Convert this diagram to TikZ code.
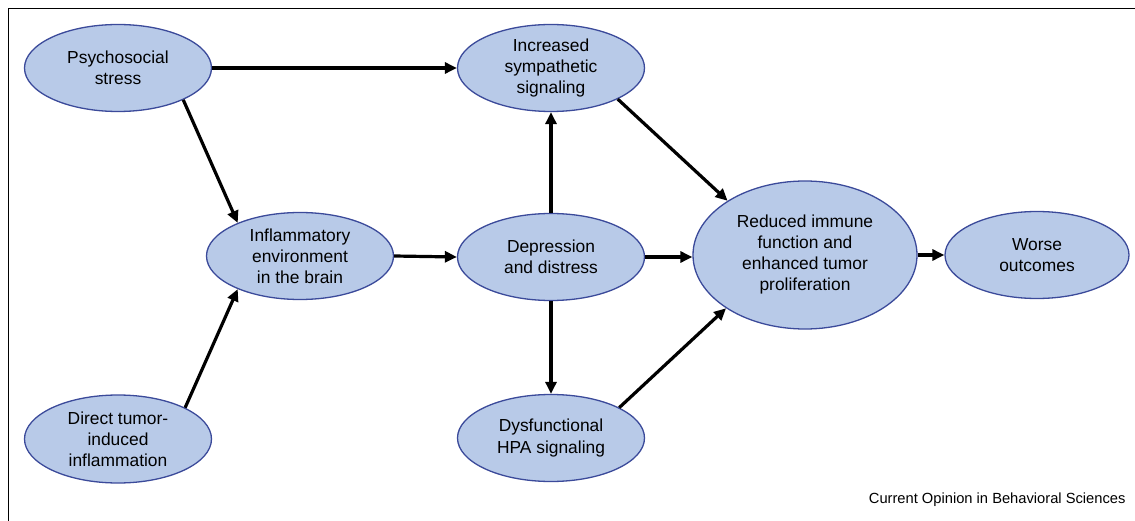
\documentclass[tikz,border=0pt]{standalone}
\usepackage{fontspec}
\setmainfont{Liberation Sans}
\usetikzlibrary{shapes.geometric,arrows.meta}
\definecolor{efill}{HTML}{B8CAE8}
\definecolor{edraw}{HTML}{3B4A9A}
\tikzset{
  ell/.style={ellipse, draw=edraw, line width=1.3pt, fill=efill, inner sep=0pt, align=center,
    font=\fontsize{17.4}{21}\selectfont, minimum width=#1},
  ell/.default=187pt,
  arr/.style={line width=3.2pt, -{Triangle[length=12pt,width=11pt]}},
}
\begin{document}
\begin{tikzpicture}[x=1pt,y=-1pt]
\useasboundingbox (0,0) rectangle (1135,521);
\draw[line width=1.3pt] (8.5,521) -- (8.5,8.5) -- (1135,8.5);

\node[ell, minimum height=87pt] (psy) at (118,68) {Psychosocial\\stress};
\node[ell, minimum height=87pt] (inc) at (551,68) {Increased\\sympathetic\\signaling};
\node[ell, minimum height=87pt] (infl) at (300,256) {Inflammatory\\environment\\in the brain};
\node[ell, minimum height=87pt] (dep) at (551,257) {Depression\\and distress};
\node[ell=224pt, minimum height=148pt] (red) at (805,255) {Reduced immune\\function and\\enhanced tumor\\proliferation};
\node[ell=184pt, minimum height=87pt] (wor) at (1037,255) {Worse\\outcomes};
\node[ell, minimum height=88pt] (dir) at (118,439) {Direct tumor-\\induced\\inflammation};
\node[ell, minimum height=87pt] (hpa) at (551,438) {Dysfunctional\\HPA signaling};

\node[font=\fontsize{14.7}{17}\selectfont, anchor=east] (src) at (1129,500) {Current Opinion in Behavioral Sciences};

\draw[arr] (psy.east) -- (inc.west);
\draw[arr] (psy.-26) -- (infl.152);
\draw[arr] (dir.25) -- (infl.208);
\draw[arr] (infl.east) -- (dep.west);
\draw[arr] (dep.north) -- (inc.south);
\draw[arr] (dep.south) -- (hpa.north);
\draw[arr] (dep.east) -- (red.west |- dep.east);
\draw[arr] (inc.-25) -- (red.145);
\draw[arr] (hpa.24) -- (red.214);
\draw[arr] (red.east) -- (wor.west);
\end{tikzpicture}
\end{document}
